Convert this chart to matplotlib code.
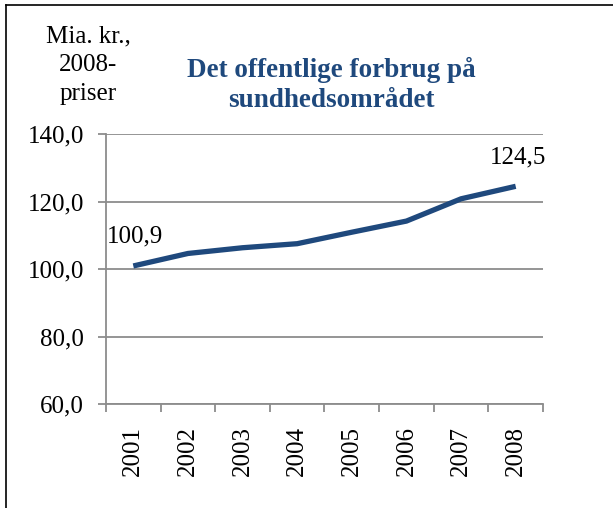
import matplotlib.pyplot as plt
from matplotlib.lines import Line2D
import numpy as np

years = ["2001", "2002", "2003", "2004", "2005", "2006", "2007", "2008"]
values = [100.9, 104.6, 106.3, 107.5, 110.9, 114.2, 120.8, 124.5]
yticks = [60, 80, 100, 120, 140]
ytick_labels = ["60,0", "80,0", "100,0", "120,0", "140,0"]

W, H = 613, 508
plt.rcParams['font.family'] = ['Liberation Serif', 'DejaVu Serif']
blue = '#1F497D'
grey = '#8C8C8C'
fs = 18
px = 72 / 100  # points per pixel

fig = plt.figure(figsize=(W / 100, H / 100), dpi=100)
ax = fig.add_axes([106 / W, (H - 404) / H, (543 - 106) / W, (404 - 134) / H])

x = np.arange(len(years))
ax.plot(x, values, color=blue, linewidth=3.8, solid_capstyle='butt', zorder=3)

ax.set_xlim(-0.5, len(years) - 0.5)
ax.set_ylim(60, 140)
ax.set_yticks(yticks)
ax.set_yticklabels(ytick_labels, fontsize=fs)
ax.set_xticks(x)
ax.set_xticklabels(years, rotation=90, fontsize=fs)
ax.set_xticks(np.arange(len(years) + 1) - 0.5, minor=True)
ax.tick_params(axis='x', which='major', length=0, pad=16)
ax.tick_params(axis='x', which='minor', length=5.5, width=1.3, color=grey)
ax.tick_params(axis='y', length=5.8, width=1.3, color=grey, pad=10)

ax.grid(axis='y', color=grey, linewidth=1.3)
ax.set_axisbelow(True)
for s in ['top', 'right']:
    ax.spines[s].set_visible(False)
for s in ['left', 'bottom']:
    ax.spines[s].set_color(grey)
    ax.spines[s].set_linewidth(1.3)

# data labels for first and last point
ax.annotate("100,9", (x[0], values[0]), xytext=(-26 * px, 24 * px), textcoords='offset points',
            fontsize=fs, ha='left', va='baseline')
ax.annotate("124,5", (x[-1], values[-1]), xytext=(-26 * px, 23 * px), textcoords='offset points',
            fontsize=fs, ha='left', va='baseline')

fig.text(88 / W, 1 - 65 / H, "Mia. kr.,\n2008-\npriser", fontsize=fs,
         ha='center', va='center', linespacing=1.4)
fig.text(331 / W, 1 - 85 / H, "Det offentlige forbrug på\nsundhedsområdet", fontsize=19.5,
         fontweight='bold', color=blue, ha='center', va='center', linespacing=1.22)

# outer frame
fig.add_artist(Line2D([6 / W, 6 / W], [0, 1 - 5 / H], color='black', linewidth=1.2))
fig.add_artist(Line2D([6 / W, 1], [1 - 5 / H, 1 - 5 / H], color='black', linewidth=1.2))

fig.savefig("out.png", dpi=100)
